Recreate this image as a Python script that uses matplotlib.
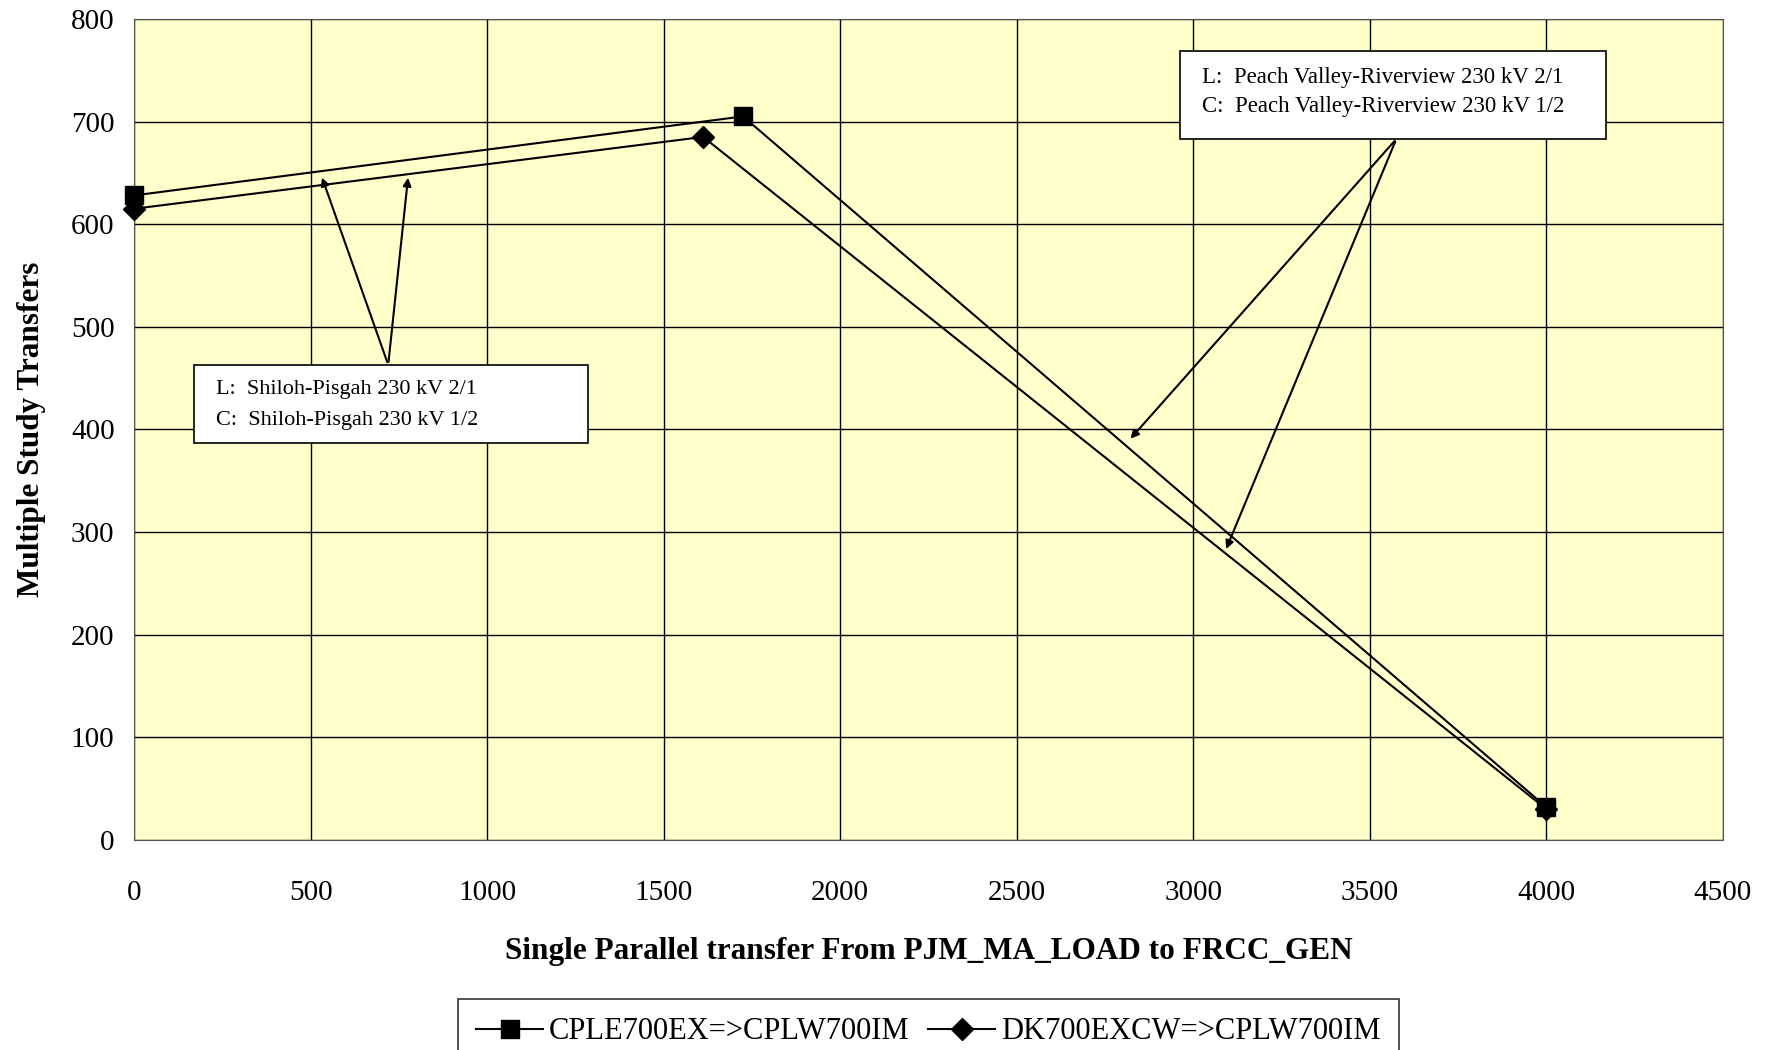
import matplotlib.pyplot as plt
from matplotlib.patches import Rectangle

plt.rcParams['font.family'] = ['Liberation Serif', 'DejaVu Serif']

# data
x_cple = [0, 1725, 4000]
y_cple = [628, 705, 32]
x_dk = [0, 1612, 4000]
y_dk = [615, 685, 30]
labels = ['CPLE700EX=>CPLW700IM', 'DK700EXCW=>CPLW700IM']

fig = plt.figure(figsize=(17.79, 10.5), dpi=100)
ax = fig.add_axes([0.0753, 0.2, 0.8932, 0.782])
ax.set_facecolor('#FFFFCC')

ax.plot(x_cple, y_cple, color='black', lw=1.5, marker='s', markersize=13, label=labels[0], clip_on=False, zorder=5)
ax.plot(x_dk, y_dk, color='black', lw=1.5, marker='D', markersize=11, label=labels[1], clip_on=False, zorder=5)

ax.set_xlim(0, 4500)
ax.set_ylim(0, 800)
ax.set_xticks(range(0, 4501, 500))
ax.set_yticks(range(0, 801, 100))
ax.grid(True, color='black', lw=1)
ax.set_axisbelow(True)
ax.tick_params(labelsize=21, length=0)
ax.tick_params(axis='x', pad=29)
ax.tick_params(axis='y', pad=14)
for s in ax.spines.values():
    s.set_color('#555555')

ax.set_xlabel('Single Parallel transfer From PJM_MA_LOAD to FRCC_GEN', fontsize=22.5, fontweight='bold', labelpad=22)
ax.set_ylabel('Multiple Study Transfers', fontsize=22.5, fontweight='bold', labelpad=18)

# annotation boxes with arrows
arr = dict(arrowstyle='-|>', color='black', lw=1.5, mutation_scale=12)

ax.annotate('', xy=(530, 648), xytext=(720, 463), arrowprops=arr, zorder=4)
ax.annotate('', xy=(777, 648), xytext=(720, 463), arrowprops=arr, zorder=4)
ax.add_patch(Rectangle((170, 387), 1115, 76, fc='white', ec='black', lw=1.2, zorder=6))
ax.text(231, 439, 'L:  Shiloh-Pisgah 230 kV 2/1', fontsize=16, va='center', zorder=7)
ax.text(231, 409, 'C:  Shiloh-Pisgah 230 kV 1/2', fontsize=16, va='center', zorder=7)

ax.annotate('', xy=(2817, 389), xytext=(3575, 683), arrowprops=arr, zorder=4)
ax.annotate('', xy=(3090, 281), xytext=(3575, 683), arrowprops=arr, zorder=4)
ax.add_patch(Rectangle((2962, 683), 1208, 86, fc='white', ec='black', lw=1.2, zorder=6))
ax.text(3026, 743, 'L:  Peach Valley-Riverview 230 kV 2/1', fontsize=16.5, va='center', zorder=7)
ax.text(3026, 715, 'C:  Peach Valley-Riverview 230 kV 1/2', fontsize=16.5, va='center', zorder=7)

leg = ax.legend(loc='upper center', bbox_to_anchor=(0.5, -0.175), ncol=2, fontsize=22,
                frameon=True, fancybox=False, edgecolor='black', handlelength=2.2,
                handletextpad=0.2, columnspacing=0.6, borderpad=0.6)
leg.get_frame().set_linewidth(1.2)

fig.savefig('out.png', dpi=100)
